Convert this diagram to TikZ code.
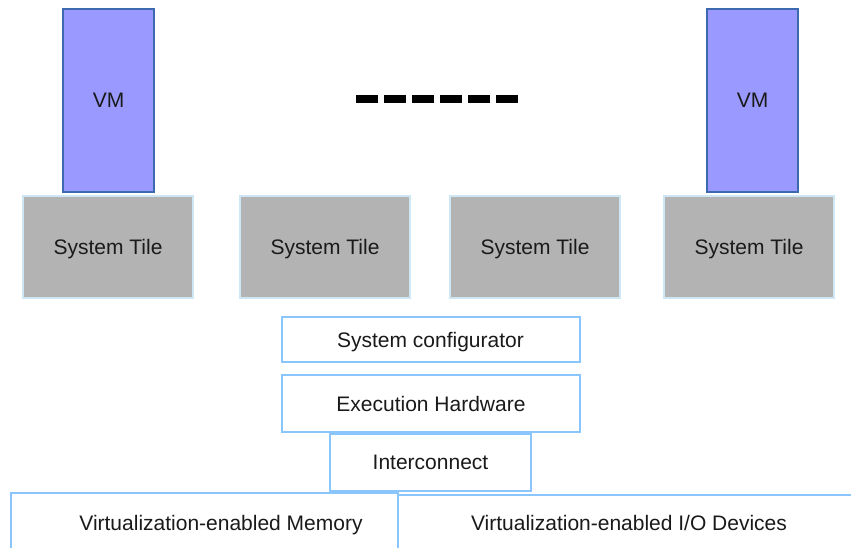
\documentclass[tikz,border=0pt]{standalone}
\usepackage{fontspec}
\setmainfont{Liberation Sans}
\definecolor{vmfill}{HTML}{9999FF}
\definecolor{vmline}{HTML}{3D6AAF}
\definecolor{tilefill}{HTML}{B3B3B3}
\definecolor{tileline}{HTML}{CFE7F5}
\definecolor{boxline}{HTML}{8AC6FB}
\definecolor{txt}{HTML}{1A1A1A}
\begin{document}
\begin{tikzpicture}[x=1pt,y=-1pt,
  every node/.style={font=\fontsize{21}{25}\selectfont, text=txt, inner sep=0pt, text depth=0pt},
  vmbox/.style={draw=vmline, fill=vmfill, line width=2pt, minimum width=91pt, minimum height=183pt},
  tilebox/.style={draw=tileline, fill=tilefill, line width=2.5pt, minimum width=170pt, minimum height=102pt},
  layerbox/.style={draw=boxline, fill=white, line width=2pt},
]
\useasboundingbox (0,0) rectangle (851,548);
\clip (0,0) rectangle (851,548);
% VMs
\node[vmbox] (vm1) at (108.5,100.5) {VM};
\node[vmbox] (vm2) at (752.5,100.5) {VM};
% tiles
\node[tilebox] (t1) at (108,247) {System Tile};
\node[tilebox] (t2) at (325,247) {System Tile};
\node[tilebox] (t3) at (535,247) {System Tile};
\node[tilebox] (t4) at (749,247) {System Tile};
% ellipsis bar
\coordinate (d1) at (356,99);
\coordinate (d2) at (520,99);
\draw[line width=8pt, dash pattern=on 22pt off 6pt] (d1) -- (d2);
% layers
\node[layerbox, minimum width=298pt, minimum height=45pt] (cfg) at (430.5,339.5) {System configurator};
\node[layerbox, minimum width=298pt, minimum height=57pt] (exe) at (431,403.5) {Execution Hardware};
\node[layerbox, minimum width=201pt, minimum height=57pt] (ic) at (430.5,462.5) {Interconnect};
% bottom
\node[layerbox, minimum width=387pt, minimum height=70pt] (mem) at (204.5,528) {};
\node[layerbox, minimum width=462pt, minimum height=70pt] (io) at (629,530) {};
\node (memtxt) at (221,523) {Virtualization-enabled Memory};
\node (iotxt) at (629,523) {Virtualization-enabled I/O Devices};
\end{tikzpicture}
\end{document}
